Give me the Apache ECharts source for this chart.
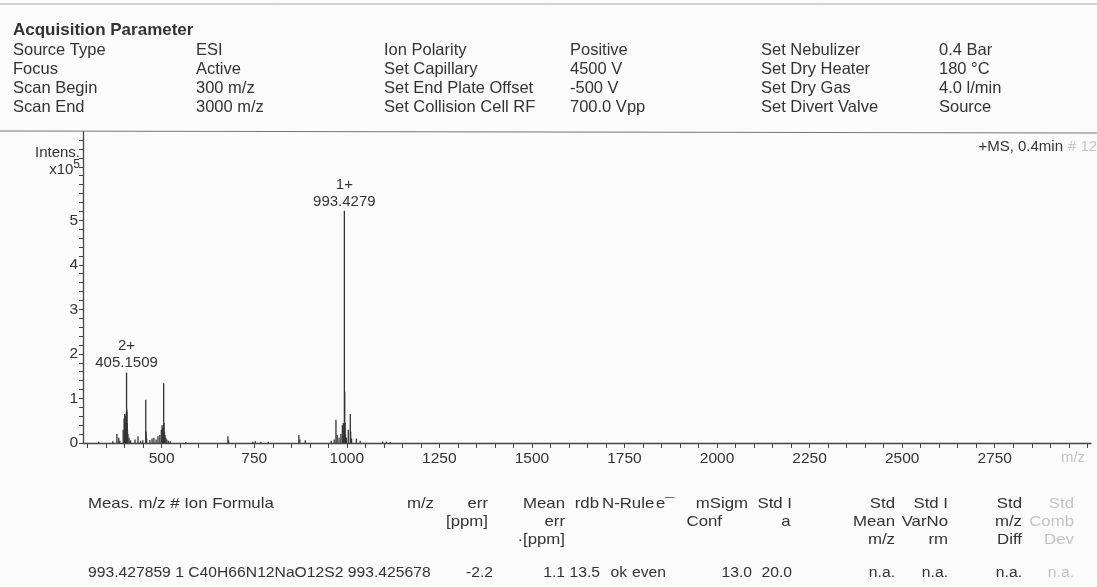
<!DOCTYPE html>
<html>
<head>
<meta charset="utf-8">
<script src="https://cdn.jsdelivr.net/npm/echarts@6/dist/echarts.min.js"></script>
<style>
html,body{margin:0;padding:0;background:#fbfbfb;}
#chart{width:1097px;height:587px;}
</style>
</head>
<body>
<div id="chart"></div>
<script>
// ---------- DATA ----------
const headerTitle = 'Acquisition Parameter';
const paramLabels1 = ['Source Type', 'Focus', 'Scan Begin', 'Scan End'];
const paramValues1 = ['ESI', 'Active', '300 m/z', '3000 m/z'];
const paramLabels2 = ['Ion Polarity', 'Set Capillary', 'Set End Plate Offset', 'Set Collision Cell RF'];
const paramValues2 = ['Positive', '4500 V', '-500 V', '700.0 Vpp'];
const paramLabels3 = ['Set Nebulizer', 'Set Dry Heater', 'Set Dry Gas', 'Set Divert Valve'];
const paramValues3 = ['0.4 Bar', '180 °C', '4.0 l/min', 'Source'];

const scanInfo = '+MS, 0.4min';
const scanInfoFaded = '# 12';
const yAxisName = 'Intens.';
const xAxisName = 'm/z';

const xTickLabels = [500, 750, 1000, 1250, 1500, 1750, 2000, 2250, 2500, 2750];
const yTickLabels = [0, 1, 2, 3, 4, 5];

// peak m/z and intensity (x10^5)
const peakMz = [330, 368, 379, 384, 387, 396, 398.5, 400, 401.5, 403, 404.65, 405.1509, 405.65, 406.15, 406.65, 407.5, 409, 412, 416,
  428, 436, 443, 449, 457, 458, 459.5, 468, 474, 479, 485, 490, 495, 499, 501, 503, 505.4, 506.4, 507.4, 509, 511, 514, 518, 523,
  565, 679, 680.5, 746, 753, 768, 788, 870.6, 873, 888, 958, 966, 970.7, 974, 979, 984, 988, 990.5, 993.4279, 994.43, 995.43, 996.4,
  999, 1004, 1009.4, 1010.5, 1013, 1026, 1036, 1097, 1107, 1117];
const peakIntensity = [0.03, 0.04, 0.2, 0.12, 0.05, 0.3, 0.55, 0.65, 0.62, 0.45, 0.68, 1.58, 0.75, 0.7, 0.45, 0.3, 0.2, 0.12, 0.06,
  0.08, 0.15, 0.05, 0.06, 0.97, 0.25, 0.1, 0.07, 0.1, 0.12, 0.08, 0.15, 0.18, 0.3, 0.4, 0.35, 1.34, 0.45, 0.25, 0.18, 0.12, 0.08, 0.05, 0.04,
  0.02, 0.15, 0.06, 0.03, 0.04, 0.03, 0.03, 0.18, 0.08, 0.06, 0.05, 0.08, 0.52, 0.18, 0.12, 0.2, 0.4, 0.45, 5.21, 1.15, 0.45, 0.2,
  0.12, 0.3, 0.65, 0.25, 0.1, 0.1, 0.05, 0.03, 0.03, 0.02];
const annotatedMz = [405.1509, 993.4279];
const annotatedCharge = ['2+', '1+'];

const tableHeaders = ['Meas. m/z # Ion Formula', 'm/z', 'err\n[ppm]', 'Mean\nerr\n·[ppm]', 'rdb', 'N-Rule', 'e¯', 'Conf',
  'mSigm', 'a', 'Std I', 'Std\nMean\nm/z', 'Std I\nVarNo\nrm', 'Std\nm/z\nDiff', 'Std\nComb\nDev'];
const tableValues = ['993.427859 1 C40H66N12NaO12S2', '993.425678', '-2.2', '1.1', '13.5', 'ok', '', 'even',
  '13.0', '', '20.0', 'n.a.', 'n.a.', 'n.a.', 'n.a.'];

// ---------- LAYOUT ----------
const FONT = '"Liberation Sans", Arial, sans-serif';
const TXT = '#333';
const FADED = '#c4c4c4';
const colX = [13, 196, 384, 570, 761, 939];
const rowY = [50, 69, 88, 107];
const TSX = 1.12; // table text horizontal stretch
const tableCols = [
  {hx: 88, ha: 'left', vx: 88, va: 'left'},
  {hx: 434, ha: 'right', vx: null, va: 'right'},
  {hx: 488, ha: 'right', vx: 493, va: 'right'},
  {hx: 565, ha: 'right', vx: 565, va: 'right'},
  {hx: 599, ha: 'right', vx: 600, va: 'right'},
  {hx: 602, ha: 'left', vx: 627, va: 'right'},
  {hx: 656, ha: 'left', vx: 666, va: 'right'},
  {hx: 722, ha: 'right', vx: 666, va: 'right', row: 1},
  {hx: 748, ha: 'right', vx: 752, va: 'right'},
  {hx: 786, ha: 'center', vx: 786, va: 'right', row: 1},
  {hx: 792, ha: 'right', vx: 792, va: 'right'},
  {hx: 895, ha: 'right', vx: 895, va: 'right'},
  {hx: 948, ha: 'right', vx: 948, va: 'right'},
  {hx: 1022, ha: 'right', vx: 1022, va: 'right'},
  {hx: 1074, ha: 'right', vx: 1074, va: 'right', faded: true}
];
const tableRowY = [504, 522, 540, 573];

const graphics = [];
function txt(x, y, s, opt, sx) {
  graphics.push({type: 'text', x: x, y: y, scaleX: sx || 1, silent: true,
    style: Object.assign({text: s, font: '16px ' + FONT, fill: TXT, textVerticalAlign: 'middle'}, opt || {})});
}
function line(x1, y1, x2, y2, color, w) {
  graphics.push({type: 'line', silent: true, shape: {x1: x1, y1: y1, x2: x2, y2: y2}, style: {stroke: color, lineWidth: w || 1}});
}
line(0, 4, 1097, 4, '#aaa', 1);
txt(13, 30, headerTitle, {font: 'bold 17px ' + FONT});
const cols = [paramLabels1, paramValues1, paramLabels2, paramValues2, paramLabels3, paramValues3];
cols.forEach((c, ci) => c.forEach((s, ri) => txt(colX[ci], rowY[ri], s, {font: '16.5px ' + FONT})));
line(0, 131, 1097, 133, '#777', 1.2);
txt(1063, 147, scanInfo, {textAlign: 'right', font: '15px ' + FONT});
txt(1068, 147, scanInfoFaded, {font: '15px ' + FONT, fill: FADED});
txt(80, 153, yAxisName, {textAlign: 'right', font: '15px ' + FONT});
graphics.push({type: 'text', x: 80, y: 170, silent: true, style: {text: '{a|x10}{b|5}', textAlign: 'right', textVerticalAlign: 'middle',
  rich: {a: {font: '15px ' + FONT, fill: TXT}, b: {font: '12px ' + FONT, fill: TXT, padding: [0, 0, 10, 0]}}}});

tableHeaders.forEach((h, i) => {
  const c = tableCols[i];
  const r0 = c.row || 0;
  h.split('\n').forEach((s, li) => txt(c.hx, tableRowY[r0 + li], s,
    {textAlign: c.ha, font: '15px ' + FONT, fill: c.faded ? FADED : TXT}, TSX));
});
tableValues.forEach((v, i) => {
  const c = tableCols[i];
  if (!v || c.vx === null) return;
  // measured m/z, #, formula and calculated m/z are printed as one run
  const s = i === 0 ? v + ' ' + tableValues[1] : v;
  txt(c.vx, tableRowY[3], s, {textAlign: c.va, font: '14px ' + FONT, fill: c.faded ? FADED : TXT}, TSX);
});

const seriesData = peakMz.map((mz, i) => {
  const k = annotatedMz.indexOf(mz);
  const item = {value: [mz, peakIntensity[i]]};
  if (k >= 0) {
    item.label = {show: true, position: 'top', distance: 1, formatter: annotatedCharge[k] + '\n' + mz.toFixed(4),
      fontFamily: FONT, fontSize: 15, color: TXT, lineHeight: 17};
  }
  return item;
});

const xTicks = [];
for (let v = 300; v <= 3000; v += 50) xTicks.push(v);
const yTicks = [];
for (let v = 0; v <= 6.81; v += 0.2) yTicks.push(Math.round(v * 10) / 10);

const chart = echarts.init(document.getElementById('chart'), null, {renderer: 'canvas'});
chart.setOption({
  backgroundColor: '#fbfbfb',
  animation: false,
  grid: {left: 83, top: 132, right: 6, bottom: 144, containLabel: false},
  xAxis: {
    type: 'value', min: 287.5, max: 3010,
    axisLine: {show: true, onZero: false, lineStyle: {color: '#444', width: 1.3}},
    axisTick: {show: true, inside: false, length: 5, customValues: xTicks, lineStyle: {color: '#444'}},
    axisLabel: {customValues: xTickLabels, formatter: v => String(v), margin: 8, fontFamily: FONT, fontSize: 15.5, color: TXT},
    splitLine: {show: false}
  },
  yAxis: {
    type: 'value', min: 0, max: 6.98,
    axisLine: {show: true, lineStyle: {color: '#444', width: 1.3}},
    axisTick: {show: true, length: 4, customValues: yTicks, lineStyle: {color: '#444'}},
    axisLabel: {customValues: yTickLabels, formatter: v => String(v), margin: 5, fontFamily: FONT, fontSize: 15.5, color: TXT},
    splitLine: {show: false}
  },
  series: [{
    type: 'bar', barWidth: 1.3, barGap: '-100%',
    itemStyle: {color: '#333'},
    data: seriesData
  }],
  graphic: graphics.concat([{type: 'text', x: 1073, y: 458, silent: true, style: {text: xAxisName, font: '15px ' + FONT, fill: FADED, textAlign: 'center', textVerticalAlign: 'middle'}}])
});
</script>
</body>
</html>
